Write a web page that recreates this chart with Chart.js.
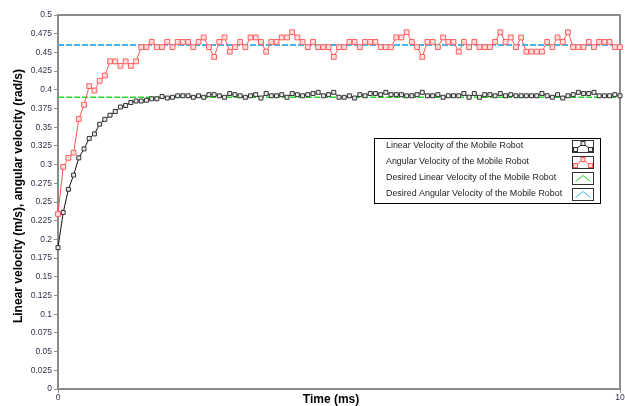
<!DOCTYPE html>
<html>
<head>
<meta charset="utf-8">
<script src="https://cdn.jsdelivr.net/npm/chart.js@4/dist/chart.umd.min.js"></script>
<style>
  html, body { margin: 0; padding: 0; background: #fff; }
  #wrap { width: 625px; height: 406px; }
</style>
</head>
<body>
<div id="wrap"><canvas id="chart" width="625" height="406"></canvas></div>
<script>
const linearVel = [
  0.189, 0.236, 0.267, 0.286, 0.309, 0.321, 0.335, 0.341, 0.354, 0.3605, 0.366,
  0.371, 0.377, 0.379, 0.383, 0.385, 0.385, 0.386, 0.388, 0.388, 0.391,
  0.389, 0.390, 0.392, 0.392, 0.392, 0.390, 0.392, 0.390, 0.3935, 0.3935, 0.392,
  0.390, 0.395, 0.3935, 0.392, 0.390, 0.392, 0.3935, 0.389, 0.395, 0.392, 0.392, 0.3935,
  0.390, 0.395, 0.3935, 0.392, 0.3935, 0.395, 0.3966, 0.392, 0.3935, 0.3966, 0.390,
  0.390, 0.392, 0.389, 0.3935, 0.392, 0.395, 0.395, 0.3935, 0.3966, 0.3935, 0.3935,
  0.3935, 0.392, 0.392, 0.3935, 0.3966, 0.392, 0.392, 0.3935, 0.390, 0.392, 0.392,
  0.392, 0.395, 0.390, 0.395, 0.390, 0.3935, 0.3935, 0.392, 0.395, 0.392, 0.3935,
  0.392, 0.392, 0.392, 0.392, 0.392, 0.395, 0.392, 0.390, 0.3935, 0.389, 0.392,
  0.3935, 0.3966, 0.395, 0.395, 0.3966, 0.392, 0.392, 0.392, 0.3935, 0.392
]
const angularVel = [
  0.234, 0.297, 0.309, 0.316, 0.361, 0.380, 0.405, 0.399, 0.412, 0.419, 0.438,
  0.438, 0.432, 0.438, 0.432, 0.438, 0.457, 0.457, 0.464, 0.457, 0.457,
  0.464, 0.457, 0.464, 0.464, 0.464, 0.457, 0.464, 0.470, 0.457, 0.444, 0.464,
  0.470, 0.451, 0.457, 0.464, 0.457, 0.470, 0.470, 0.464, 0.451, 0.464, 0.464, 0.470,
  0.470, 0.477, 0.470, 0.464, 0.457, 0.464, 0.457, 0.457, 0.457, 0.444, 0.457,
  0.457, 0.464, 0.464, 0.457, 0.464, 0.464, 0.464, 0.457, 0.457, 0.457, 0.470,
  0.470, 0.477, 0.464, 0.457, 0.444, 0.464, 0.464, 0.457, 0.470, 0.464, 0.464,
  0.451, 0.464, 0.457, 0.464, 0.457, 0.457, 0.457, 0.464, 0.477, 0.464, 0.470,
  0.457, 0.470, 0.451, 0.451, 0.451, 0.451, 0.464, 0.457, 0.470, 0.464, 0.477,
  0.457, 0.457, 0.457, 0.464, 0.457, 0.464, 0.464, 0.464, 0.457, 0.457
]
const desiredLinear = 0.39
const desiredAngular = 0.46
const timeRange = [0, 10]
const seriesNames = [
  'Linear Velocity of the Mobile Robot',
  'Angular Velocity of the Mobile Robot',
  'Desired Linear Velocity of the Mobile Robot',
  'Desired Angular Velocity of the Mobile Robot'
]
const xTitle = 'Time (ms)'
const yTitle = 'Linear velocity (m/s), angular velocity (rad/s)'

// Uniform sampling in time.
const step = (timeRange[1] - timeRange[0]) / (linearVel.length - 1)
const toPoints = arr => arr.map((v, i) => ({ x: timeRange[0] + i * step, y: v }))
const flat = v => [{ x: timeRange[0], y: v }, { x: timeRange[1], y: v }]

const tickFont = { family: '"Liberation Sans", Arial, sans-serif', size: 8.5 }

// Gray frame round the plot area.
const framePlugin = {
  id: 'frame',
  beforeDatasetsDraw(chart) {
    const { ctx, chartArea: a } = chart
    ctx.save()
    ctx.strokeStyle = '#8c8c8c'
    ctx.lineWidth = 2
    ctx.strokeRect(a.left, a.top, a.right - a.left, a.bottom - a.top)
    ctx.restore()
  }
}

// Boxed legend inside the plot, with small swatches on the right,
// plus both axis titles (they sit a bit off the scale centres).
const boxLegend = {
  id: 'boxLegend',
  afterDraw(chart) {
    const ctx = chart.ctx
    const box = { x: 374.5, y: 138.5, w: 226, h: 65 }
    ctx.save()
    ctx.fillStyle = '#fff'
    ctx.fillRect(box.x, box.y, box.w, box.h)
    ctx.strokeStyle = '#000'
    ctx.lineWidth = 1
    ctx.strokeRect(box.x, box.y, box.w, box.h)
    ctx.font = '8.9px "Liberation Sans", Arial, sans-serif'
    ctx.textBaseline = 'middle'
    chart.data.datasets.forEach((ds, i) => {
      const cy = 146 + i * 16
      ctx.fillStyle = '#222'
      ctx.fillText(ds.label, 386, cy)
      const sx = 572.5, sy = Math.round(cy - 6) + 0.5, sw = 21, sh = 12
      ctx.fillStyle = '#fff'
      ctx.fillRect(sx, sy, sw, sh)
      ctx.strokeStyle = '#333'
      ctx.lineWidth = 1
      ctx.setLineDash([])
      ctx.strokeRect(sx, sy, sw, sh)
      const pts = [[sx + 3, sy + sh - 3], [sx + sw / 2, sy + 3], [sx + sw - 3, sy + sh - 3]]
      ctx.strokeStyle = ds.borderColor
      ctx.lineWidth = 1
      ctx.beginPath()
      pts.forEach((p, k) => k ? ctx.lineTo(p[0], p[1]) : ctx.moveTo(p[0], p[1]))
      ctx.stroke()
      if (ds.pointRadius > 0) {
        ctx.fillStyle = ds.pointBackgroundColor
        ctx.strokeStyle = ds.pointBorderColor
        pts.forEach(p => {
          ctx.fillRect(p[0] - 2, p[1] - 2, 4, 4)
          ctx.strokeRect(p[0] - 2, p[1] - 2, 4, 4)
        })
      }
    })
    ctx.fillStyle = '#000'
    ctx.font = 'bold 12px "Liberation Sans", Arial, sans-serif'
    ctx.textAlign = 'center'
    ctx.fillText(xTitle, 331, 400)
    ctx.translate(19, 196)
    ctx.rotate(-Math.PI / 2)
    ctx.fillText(yTitle, 0, 0)
    ctx.restore()
  }
}

const chart = new Chart(document.getElementById('chart'), {
  type: 'line',
  data: {
    datasets: [
      {
        label: seriesNames[0],
        data: toPoints(linearVel),
        borderColor: '#111',
        borderWidth: 1,
        pointStyle: 'rect',
        pointRadius: 2.8,
        pointBorderWidth: 1,
        pointBorderColor: '#333',
        pointBackgroundColor: '#e8e8e8',
        tension: 0,
        clip: false
      },
      {
        label: seriesNames[1],
        data: toPoints(angularVel),
        borderColor: '#ff5555',
        borderWidth: 1,
        pointStyle: 'rect',
        pointRadius: 3.4,
        pointBorderWidth: 1,
        pointBorderColor: '#ff6060',
        pointBackgroundColor: '#ffdede',
        tension: 0,
        clip: false
      },
      {
        label: seriesNames[2],
        data: flat(desiredLinear),
        borderColor: '#22dd22',
        borderWidth: 1.5,
        borderDash: [6, 2],
        pointRadius: 0
      },
      {
        label: seriesNames[3],
        data: flat(desiredAngular),
        borderColor: '#44b4f0',
        borderWidth: 2,
        borderDash: [6, 2],
        pointRadius: 0
      }
    ]
  },
  options: {
    responsive: false,
    animation: false,
    devicePixelRatio: 1,
    layout: { padding: { top: 15, right: 3, left: 0, bottom: 0 } },
    plugins: {
      legend: { display: false },
      tooltip: { enabled: false }
    },
    scales: {
      x: {
        type: 'linear',
        min: timeRange[0],
        max: timeRange[1],
        ticks: { stepSize: 10, color: '#33334d', font: tickFont, padding: 0, maxRotation: 0 },
        grid: { drawOnChartArea: false, drawTicks: true, tickLength: 4, color: '#8c8c8c' },
        border: { display: false },
        afterFit: s => { s.height = 17; s.paddingLeft = 0; s.paddingRight = 0 }
      },
      y: {
        min: 0,
        max: 0.5,
        ticks: {
          stepSize: 0.025,
          color: '#33334d',
          font: tickFont,
          padding: 2,
          callback: v => String(parseFloat(v.toFixed(3)))
        },
        grid: { drawOnChartArea: false, drawTicks: true, tickLength: 4, color: '#8c8c8c' },
        border: { display: false },
        afterFit: s => { s.width = 58; s.paddingTop = 0; s.paddingBottom = 0 }
      }
    }
  },
  plugins: [framePlugin, boxLegend]
})
</script>
</body>
</html>
